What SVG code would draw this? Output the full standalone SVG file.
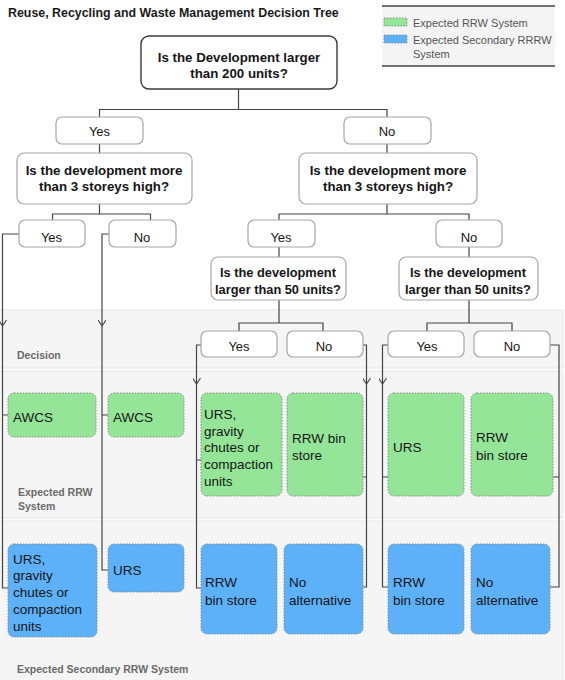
<svg xmlns="http://www.w3.org/2000/svg" width="565" height="680" viewBox="0 0 565 680">
<defs>
<style>
text{font-family:"Liberation Sans",Arial,sans-serif;fill:#151515}
.title{font-size:12.4px;font-weight:bold;fill:#1a1a1a}
.leg{font-size:11px;fill:#555}
.lane{fill:#f6f5f5;stroke:#e6e6e6;stroke-width:1}
.lanelbl{font-size:10.5px;font-weight:bold;fill:#6a6a6a}
.q{fill:#fff;stroke:#a6a6a6;stroke-width:1.2}
.root{fill:#fff;stroke:#3a3a3a;stroke-width:1.4}
.qt{font-size:13.3px;font-weight:bold;text-anchor:middle}
.qs{font-size:12.8px;font-weight:bold;text-anchor:middle}
.yn{fill:#fff;stroke:#a6a6a6;stroke-width:1.2}
.ynt{font-size:13px;text-anchor:middle}
.g{fill:#94e597;stroke:#8a8a8a;stroke-width:1;stroke-dasharray:1.5 1.5}
.b{fill:#5cb1f9;stroke:#7e8c99;stroke-width:1;stroke-dasharray:1.5 1.5}
.bt{font-size:13.5px}
.c{fill:none;stroke:#444;stroke-width:1.2}
</style>
<marker id="arr" viewBox="0 0 6 8" refX="6" refY="4" markerWidth="6" markerHeight="8" markerUnits="userSpaceOnUse" orient="auto">
<path d="M0,0 L6,4 L0,8" fill="none" stroke="#444" stroke-width="1.1"/>
</marker>
</defs>

<rect width="565" height="680" fill="#fff"/>

<g id="lanes">
<rect class="lane" x="-1" y="310" width="564" height="58"/>
<rect class="lane" x="-1" y="371" width="564" height="147"/>
<rect class="lane" x="-1" y="521" width="564" height="162"/>
<text class="lanelbl" x="17" y="359">Decision</text>
<text class="lanelbl" x="18" y="496">Expected RRW</text>
<text class="lanelbl" x="18" y="510">System</text>
<text class="lanelbl" x="17" y="673">Expected Secondary RRW System</text>
</g>

<text class="title" x="8" y="17">Reuse, Recycling and Waste Management Decision Tree</text>

<g id="legend">
<rect x="382" y="6" width="173" height="60" fill="#f4f4f4"/>
<line x1="382" y1="6" x2="555" y2="6" stroke="#444" stroke-width="1.5"/>
<line x1="382" y1="66" x2="555" y2="66" stroke="#444" stroke-width="1.5"/>
<rect class="g" x="384" y="18" width="23" height="8"/>
<text class="leg" x="413" y="26.5">Expected RRW System</text>
<rect class="b" x="384" y="35" width="23" height="8"/>
<text class="leg" x="413" y="43.5">Expected Secondary RRRW</text>
<text class="leg" x="413" y="57.5">System</text>
</g>

<g id="connectors">
<path class="c" d="M238.5,89 V109.5 M99.5,117 V109.5 H387 V117"/>
<path class="c" d="M99.5,144 V153 M387,144 V153"/>
<path class="c" d="M99.5,204 V214 M52.5,220 V214 H150.5 V220"/>
<path class="c" d="M387,204 V214 M279,220 V214 H469 V220"/>
<path class="c" d="M279,247 V257 M469,247 V257"/>
<path class="c" d="M279,300 V323 M239,331 V323 H323 V331"/>
<path class="c" d="M469,300 V323 M427,331 V323 H512 V331"/>
<!-- column 1 -->
<path class="c" d="M19,234 H2.5 V326" marker-end="url(#arr)"/>
<path class="c" d="M2.5,326 V588 H8 M2.5,415 H8"/>
<!-- column 2 -->
<path class="c" d="M109,234 H102 V326" marker-end="url(#arr)"/>
<path class="c" d="M102,326 V570 H108 M102,415 H108"/>
<!-- column 3 -->
<path class="c" d="M201,345 H196.5 V384" marker-end="url(#arr)"/>
<path class="c" d="M196.5,384 V588 H201 M196.5,460 H201"/>
<!-- column 4 -->
<path class="c" d="M363,345 H366.5 V384" marker-end="url(#arr)"/>
<path class="c" d="M366.5,384 V587 H363 M366.5,477 H363"/>
<!-- column 5 -->
<path class="c" d="M388,345 H382.5 V384" marker-end="url(#arr)"/>
<path class="c" d="M382.5,384 V587 H388 M382.5,477 H388"/>
<!-- column 6 -->
<path class="c" d="M550,345 H559 V587 H550 M559,477 H553"/>
</g>

<g id="n-root">
<rect class="root" x="141" y="36" width="196" height="53" rx="8"/>
<text class="qt" x="239" y="61.7">Is the Development larger</text>
<text class="qt" x="239" y="77.7">than 200 units?</text>
</g>

<g id="n-yes1">
<rect class="yn" x="56" y="117" width="87" height="27" rx="6"/>
<text class="ynt" x="99.5" y="135.5">Yes</text>
</g>
<g id="n-no1">
<rect class="yn" x="344" y="117" width="87" height="27" rx="6"/>
<text class="ynt" x="387" y="135.5">No</text>
</g>

<g id="n-storeys-l">
<rect class="q" x="17" y="153" width="175" height="51" rx="7"/>
<text class="qt" x="104" y="174.5">Is the development more</text>
<text class="qt" x="104" y="190.5">than 3 storeys high?</text>
</g>
<g id="n-storeys-r">
<rect class="q" x="299" y="153" width="178" height="51" rx="7"/>
<text class="qt" x="388" y="174.5">Is the development more</text>
<text class="qt" x="388" y="190.5">than 3 storeys high?</text>
</g>

<g id="n-yes2l">
<rect class="yn" x="19" y="220" width="66" height="27" rx="6"/>
<text class="ynt" x="51.5" y="241.5">Yes</text>
</g>
<g id="n-no2l">
<rect class="yn" x="109" y="220" width="67" height="27" rx="6"/>
<text class="ynt" x="142" y="241.5">No</text>
</g>
<g id="n-yes2r">
<rect class="yn" x="248" y="220" width="67" height="27" rx="6"/>
<text class="ynt" x="281" y="241.5">Yes</text>
</g>
<g id="n-no2r">
<rect class="yn" x="436" y="220" width="66" height="27" rx="6"/>
<text class="ynt" x="469" y="241.5">No</text>
</g>

<g id="n-units-l">
<rect class="q" x="211" y="257" width="135" height="43" rx="7"/>
<text class="qs" x="278" y="276.5">Is the development</text>
<text class="qs" x="278" y="293.5">larger than 50 units?</text>
</g>
<g id="n-units-r">
<rect class="q" x="399" y="257" width="139" height="43" rx="7"/>
<text class="qs" x="468" y="276.5">Is the development</text>
<text class="qs" x="468" y="293.5">larger than 50 units?</text>
</g>

<g id="n-yes3a">
<rect class="yn" x="201" y="331" width="76" height="26" rx="6"/>
<text class="ynt" x="239" y="350.5">Yes</text>
</g>
<g id="n-no3a">
<rect class="yn" x="287" y="331" width="76" height="26" rx="6"/>
<text class="ynt" x="324" y="350.5">No</text>
</g>
<g id="n-yes3b">
<rect class="yn" x="388" y="331" width="76" height="26" rx="6"/>
<text class="ynt" x="427" y="350.5">Yes</text>
</g>
<g id="n-no3b">
<rect class="yn" x="474" y="331" width="76" height="26" rx="6"/>
<text class="ynt" x="512" y="350.5">No</text>
</g>

<g id="g1">
<rect class="g" x="8" y="393" width="88" height="44" rx="6"/>
<text class="bt" x="13" y="421.5">AWCS</text>
</g>
<g id="g2">
<rect class="g" x="108" y="393" width="76" height="44" rx="6"/>
<text class="bt" x="113" y="421.5">AWCS</text>
</g>
<g id="g3">
<rect class="g" x="201" y="393" width="81" height="103" rx="6"/>
<text class="bt" x="204" y="419">URS,</text>
<text class="bt" x="204" y="435.5">gravity</text>
<text class="bt" x="204" y="452">chutes or</text>
<text class="bt" x="204" y="468.5">compaction</text>
<text class="bt" x="204" y="485.5">units</text>
</g>
<g id="g4">
<rect class="g" x="287" y="393" width="76" height="103" rx="6"/>
<text class="bt" x="292" y="442.5">RRW bin</text>
<text class="bt" x="292" y="459.5">store</text>
</g>
<g id="g5">
<rect class="g" x="388" y="393" width="76" height="103" rx="6"/>
<text class="bt" x="393" y="451.5">URS</text>
</g>
<g id="g6">
<rect class="g" x="471" y="393" width="82" height="103" rx="6"/>
<text class="bt" x="476" y="441.5">RRW</text>
<text class="bt" x="476" y="459.5">bin store</text>
</g>

<g id="b1">
<rect class="b" x="8" y="544" width="89" height="93" rx="6"/>
<text class="bt" x="13" y="563.5">URS,</text>
<text class="bt" x="13" y="580">gravity</text>
<text class="bt" x="13" y="597">chutes or</text>
<text class="bt" x="13" y="614">compaction</text>
<text class="bt" x="13" y="631">units</text>
</g>
<g id="b2">
<rect class="b" x="108" y="544" width="76" height="48" rx="6"/>
<text class="bt" x="113" y="574.5">URS</text>
</g>
<g id="b3">
<rect class="b" x="201" y="544" width="76" height="90" rx="6"/>
<text class="bt" x="205" y="586.5">RRW</text>
<text class="bt" x="205" y="604.5">bin store</text>
</g>
<g id="b4">
<rect class="b" x="284" y="544" width="79" height="90" rx="6"/>
<text class="bt" x="289" y="586.5">No</text>
<text class="bt" x="289" y="604.5">alternative</text>
</g>
<g id="b5">
<rect class="b" x="388" y="544" width="76" height="90" rx="6"/>
<text class="bt" x="393" y="586.5">RRW</text>
<text class="bt" x="393" y="604.5">bin store</text>
</g>
<g id="b6">
<rect class="b" x="471" y="544" width="79" height="90" rx="6"/>
<text class="bt" x="476" y="586.5">No</text>
<text class="bt" x="476" y="604.5">alternative</text>
</g>
</svg>
